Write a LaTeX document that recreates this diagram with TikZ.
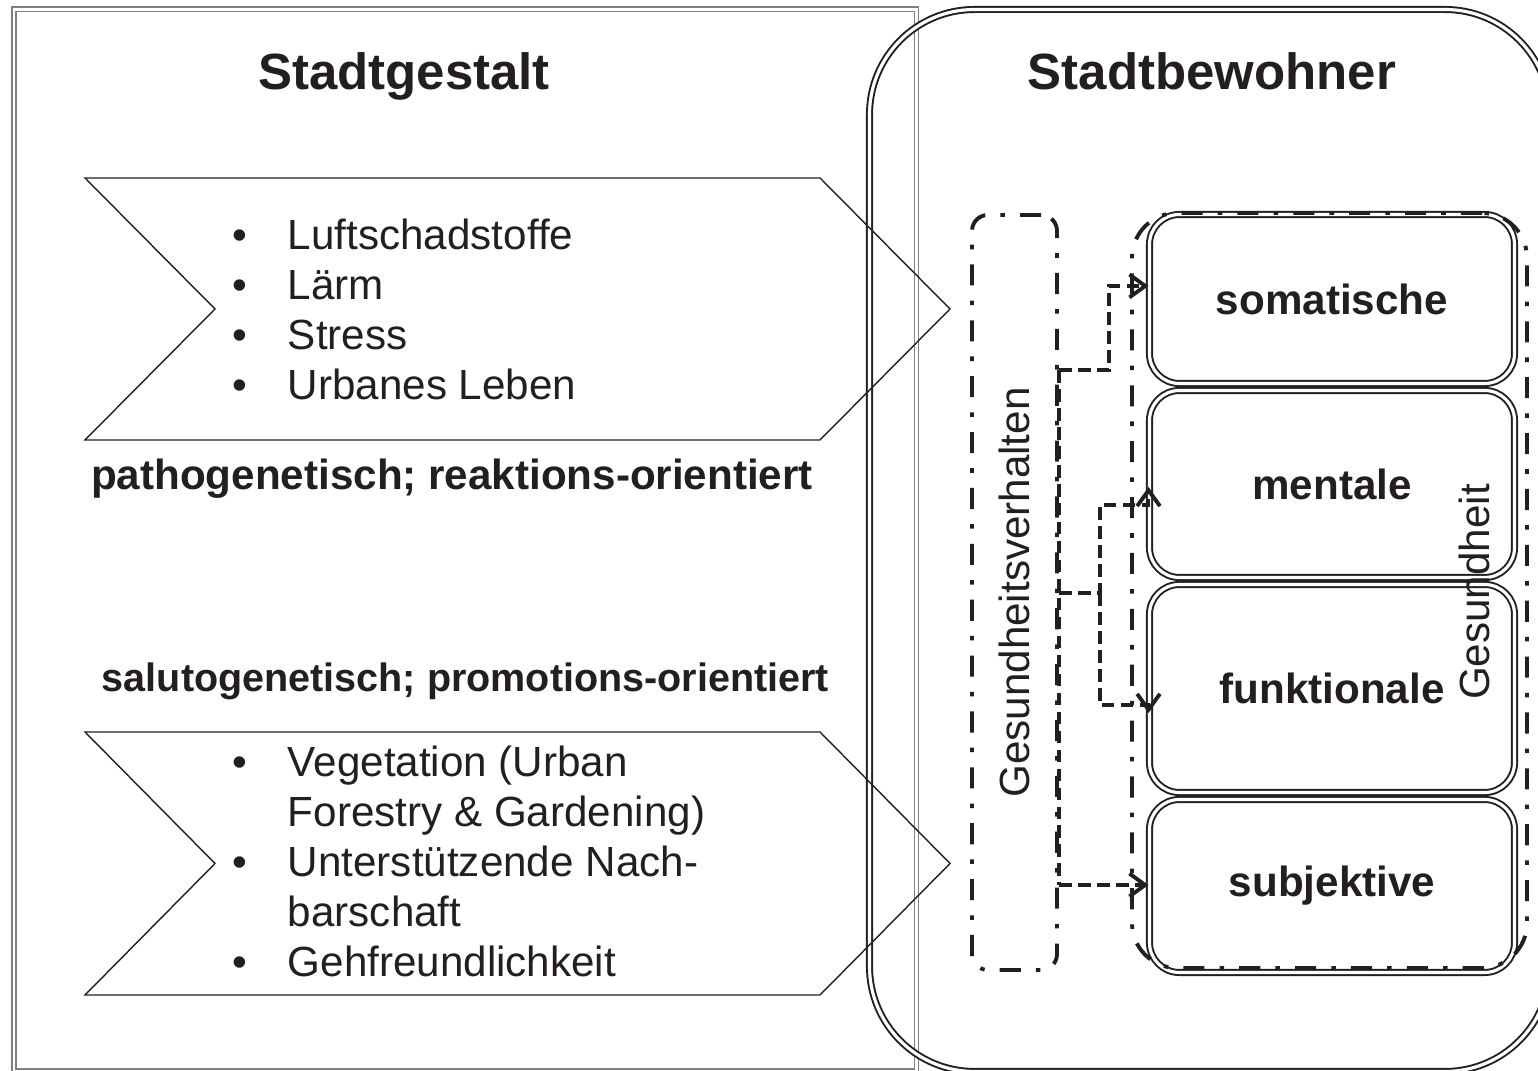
\documentclass[tikz,border=0pt]{standalone}
\usepackage{fontspec}
\setmainfont{Liberation Sans}
\usetikzlibrary{arrows.meta}
\definecolor{ink}{HTML}{231F20}

\begin{document}
\begin{tikzpicture}[>={Straight Barb[length=4.5pt,width=6.5pt]},color=ink,
  font=\fontsize{12}{14.2}\selectfont,
  feld/.style={draw=ink,double=white,line width=0.55pt,double distance=0.9pt,rounded corners=8.5pt,
    minimum width=3.65cm,inner sep=0pt,font=\fontsize{12}{14.2}\selectfont\bfseries},
  strichpunkt/.style={draw=ink,line width=1.1pt,dash pattern=on 6pt off 4.3pt on 1.3pt off 4.3pt},
  pfeil/.style={->,line width=1.1pt,dash pattern=on 3.6pt off 1.8pt},
  titel/.style={font=\fontsize{14.5}{17}\selectfont\bfseries,anchor=base},
  zeile/.style={font=\fontsize{12}{14.2}\selectfont\bfseries,anchor=base},
  liste/.style={anchor=base west,inner sep=0pt,align=left}]
\useasboundingbox (0,0) rectangle (15.38,10.71);
\clip (0,0) rectangle (15.38,10.71);
% Rahmen
\draw[gray,double=white,line width=0.5pt,double distance=0.7pt] (0.14,0) rectangle (9.165,10.615);
\draw[double=white,line width=0.55pt,double distance=0.9pt,rounded corners=1.05cm] (8.695,-0.005) rectangle (15.50,10.615);
% Pfeilformen links
\draw[line width=0.4pt] (0.85,8.93) -- (8.20,8.93) -- (9.50,7.62) -- (8.20,6.31) -- (0.85,6.31) -- (2.15,7.62) -- cycle;
\draw[line width=0.4pt] (0.85,3.39) -- (8.20,3.39) -- (9.50,2.075) -- (8.20,0.76) -- (0.85,0.76) -- (2.15,2.075) -- cycle;
\node[titel] (gestalt) at (4.04,9.81) {Stadtgestalt};
\node[titel] (bewohner) at (12.12,9.81) {Stadtbewohner};
\node[liste] (belastung) at (2.32,8.21) {\begin{tabular}[t]{@{}l@{\hspace{11.5pt}}l@{}}
  • & Luftschadstoffe\\ • & Lärm\\ • & Stress\\ • & Urbanes Leben\end{tabular}};
\node[zeile] (patho) at (4.52,5.81) {pathogenetisch; reaktions-orientiert};
\node[zeile,font=\fontsize{11.25}{14.2}\selectfont\bfseries] (saluto) at (4.655,3.79) {salutogenetisch; promotions-orientiert};
\node[liste] (ressource) at (2.32,2.94) {\begin{tabular}[t]{@{}l@{\hspace{11.5pt}}l@{}}
  • & Vegetation (Urban\\ & Forestry \& Gardening)\\ • & Unterstützende Nach-\\ & barschaft\\ • & Gehfreundlichkeit\end{tabular}};
% Gesundheit
\node[feld,minimum height=1.69cm] (somatisch) at (13.32,7.72) {somatische};
\node[feld,minimum height=1.87cm] (mental) at (13.32,5.87) {mentale};
\node[feld,minimum height=2.08cm] (funktional) at (13.32,3.825) {funktionale};
\node[feld,minimum height=1.73cm] (subjektiv) at (13.32,1.85) {subjektive};
\node[strichpunkt,rounded corners=4.5pt,minimum width=0.85cm,minimum height=7.55cm] (verhalten) at (10.145,4.785) {};
\node[rotate=90] (verhaltentext) at (verhalten) {Gesundheitsverhalten};
\node[strichpunkt,rounded corners=0.45cm,minimum width=3.95cm,minimum height=7.55cm] (gesundheit) at (13.295,4.805) {};
\node[rotate=90] (gesundheittext) at (14.74,4.79) {Gesundheit};
% Verbindungen
\coordinate (ast1) at ([yshift=2.225cm]verhalten.east);
\coordinate (ast2) at ([yshift=-0.005cm]verhalten.east);
\coordinate (ast3) at ([yshift=-2.925cm]verhalten.east);
\draw[pfeil,-] (ast1) -- (ast3);
\draw[pfeil] (ast1) -- ++(0.5,0) |- ([yshift=0.13cm]somatisch.west);
\draw[pfeil] (ast2) -- ++(0.41,0) |- ([yshift=-0.21cm]mental.west) -- ([yshift=-0.03cm]mental.west);
\draw[pfeil] (ast2) ++(0.41,0) |- ([yshift=-0.165cm]funktional.west) -- ([yshift=-0.245cm]funktional.west);
\draw[pfeil] (ast3) -- (subjektiv.west |- ast3);
\end{tikzpicture}
\end{document}
